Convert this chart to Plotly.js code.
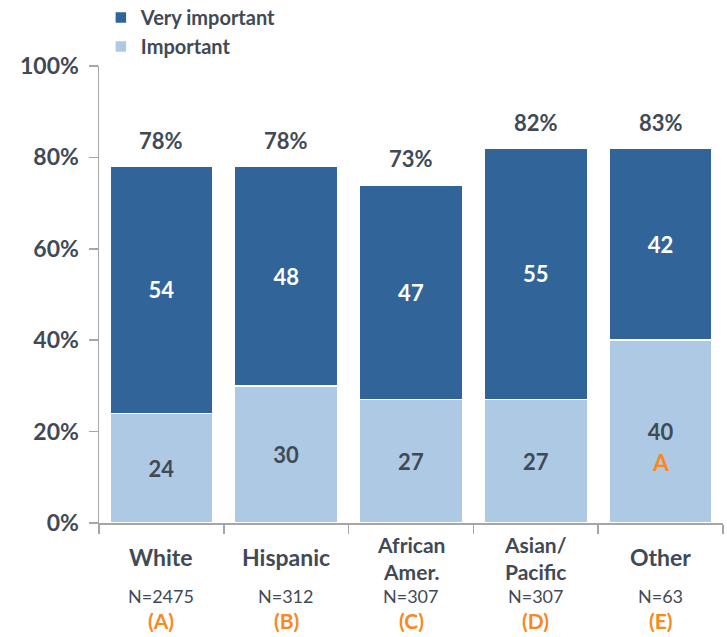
<!DOCTYPE html>
<html>
<head>
<meta charset="utf-8">
<script src="https://cdn.plot.ly/plotly-3.0.1.min.js"></script>
<style>html,body{margin:0;padding:0;background:#fff;}#chart{width:727px;height:637px;}</style>
</head>
<body>
<div id="chart"></div>
<script>
const categories = ["White", "Hispanic", "African<br>Amer.", "Asian/<br>Pacific", "Other"];
const veryImportant = [54, 48, 47, 55, 42];
const important = [24, 30, 27, 27, 40];
const totalLabels = ["78%", "78%", "73%", "82%", "83%"];
const sampleSizes = ["N=2475", "N=312", "N=307", "N=307", "N=63"];
const groupLetters = ["(A)", "(B)", "(C)", "(D)", "(E)"];
const sigLetters = ["", "", "", "", "A"];
const yTicks = [0, 20, 40, 60, 80, 100];

const FONT = "Lato, 'Open Sans', sans-serif";
const DARK = "#31659a";
const LIGHT = "#adc9e4";
const TEXT = "#3f4a56";
const ORANGE = "#f7891f";

const traces = [
  {
    type: "bar", name: "Important", x: categories, y: important,
    marker: {color: LIGHT, line: {color: "#ffffff", width: 1.5}},
    text: important.map(String), textposition: "inside", insidetextanchor: "middle",
    textfont: {family: FONT, size: 22, color: TEXT, weight: "bold"},
    hoverinfo: "skip"
  },
  {
    type: "bar", name: "Very important", x: categories, y: veryImportant,
    marker: {color: DARK, line: {color: "#ffffff", width: 1.5}},
    text: veryImportant.map(String), textposition: "inside", insidetextanchor: "middle",
    textfont: {family: FONT, size: 22, color: "#ffffff", weight: "bold"},
    hoverinfo: "skip"
  }
];

const annotations = [];
categories.forEach((c, i) => {
  const total = important[i] + veryImportant[i];
  annotations.push({x: c, y: total, xref: "x", yref: "y", text: "<b>" + totalLabels[i] + "</b>",
    showarrow: false, yanchor: "middle", yshift: 26, font: {family: FONT, size: 22, color: TEXT}});
  const multi = c.indexOf("<br>") >= 0;
  annotations.push({x: c, y: 0, xref: "x", yref: "y", text: "<b>" + c + "</b>",
    showarrow: false, yanchor: "middle", yshift: multi ? -35 : -34,
    font: {family: FONT, size: multi ? 21 : 23, color: TEXT}});
  annotations.push({x: c, y: 0, xref: "x", yref: "y", text: sampleSizes[i],
    showarrow: false, yanchor: "middle", yshift: -73, font: {family: FONT, size: 18, color: TEXT}});
  annotations.push({x: c, y: 0, xref: "x", yref: "y", text: "<b>" + groupLetters[i] + "</b>",
    showarrow: false, yanchor: "middle", yshift: -97, font: {family: FONT, size: 21, color: ORANGE}});
  if (sigLetters[i]) {
    annotations.push({x: c, y: important[i] / 2, xref: "x", yref: "y", text: "<b>" + sigLetters[i] + "</b>",
      showarrow: false, yanchor: "middle", yshift: -30, font: {family: FONT, size: 23, color: ORANGE}});
  }
});

const layout = {
  width: 727, height: 637,
  margin: {l: 99, r: 4, t: 66, b: 114, pad: 0, autoexpand: false},
  barmode: "stack", bargap: 0.175,
  paper_bgcolor: "#ffffff", plot_bgcolor: "#ffffff",
  showlegend: true,
  legend: {x: 0.003, y: 1.1488, xanchor: "left", yanchor: "top",
    traceorder: "reversed",
    font: {family: FONT, size: 20, color: TEXT, weight: "bold"}, itemwidth: 30, tracegroupgap: 0,
    bgcolor: "rgba(0,0,0,0)"},
  font: {family: FONT, color: TEXT},
  xaxis: {type: "category", showline: true, linecolor: "#a6a6a6", linewidth: 1.5,
    ticks: "outside", tickson: "boundaries", ticklen: 9, tickcolor: "#a6a6a6", tickwidth: 1.5,
    showticklabels: false, showgrid: false, zeroline: false},
  yaxis: {range: [0, 100], tickvals: yTicks, ticktext: yTicks.map(v => "<b>" + v + "%</b>"),
    showline: true, linecolor: "#a6a6a6", linewidth: 1.5, ticks: "outside", ticklen: 9,
    tickcolor: "#a6a6a6", tickwidth: 1.5, showgrid: false, zeroline: false, ticklabelstandoff: 5,
    tickfont: {family: FONT, size: 23, color: TEXT}},
  annotations: annotations
};

Plotly.newPlot("chart", traces, layout, {displayModeBar: false, staticPlot: true});
</script>
</body>
</html>
